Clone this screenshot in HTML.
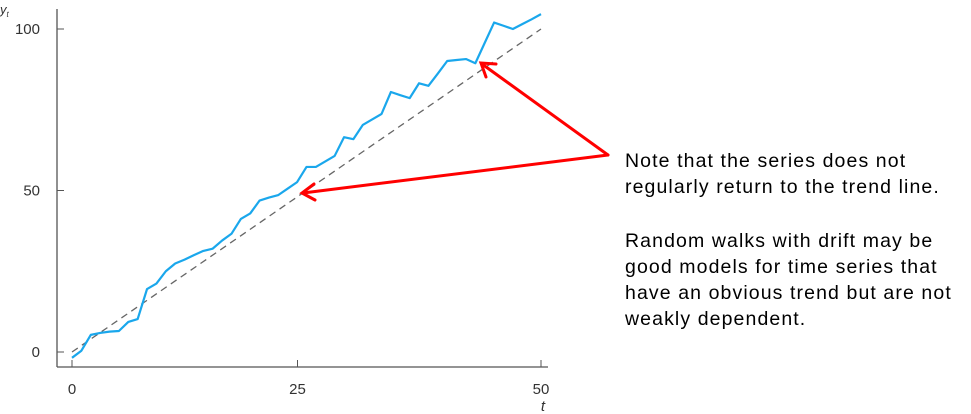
<!DOCTYPE html>
<html><head><meta charset="utf-8"><style>
body{margin:0;background:#fff;width:971px;height:414px;overflow:hidden;font-family:"Liberation Sans",sans-serif}
.note{position:absolute;left:625px;font-size:19.5px;letter-spacing:1.1px;color:#000;line-height:26px;white-space:nowrap}
</style></head><body>
<svg id="chart" width="971" height="414" style="position:absolute;left:0;top:0">
<g id="axes"></g><g id="marks"></g>
<g stroke="#f00" stroke-width="3" fill="none" stroke-linecap="round">
<line x1="608" y1="155" x2="482" y2="64"/>
<polyline points="486,77 481,63 496,64"/>
<line x1="608" y1="155" x2="303" y2="193"/>
<polyline points="314,184 302,193 315,200"/>
</g>
</svg>
<div class="note" style="top:148px">Note that the series does not<br>regularly return to the trend line.</div>
<div class="note" style="top:228px">Random walks with drift may be<br>good models for time series that<br>have an obvious trend but are not<br>weakly dependent.</div>
<script>
const series=[-1.8,0.4,5.3,5.9,6.3,6.5,9.3,10.2,19.5,21.2,25,27.4,28.6,30,31.3,32,34.5,36.6,41.2,42.9,46.9,47.8,48.6,50.6,52.6,57.3,57.3,59,60.7,66.5,65.9,70.3,72,73.7,80.5,79.5,78.6,83.2,82.4,86.2,90.1,90.4,90.7,89.4,95.7,102,101,100,101.5,103,104.6];
const trend=[0,100];
const trendT=[0,50];
const xTicks=[0,25,50];
const yTicks=[0,50,100];
const NS="http://www.w3.org/2000/svg";
const X=t=>72+t*9.38, Y=v=>352-v*3.23;
const XT=t=>X(t)+(t===25?-9:0);
function mk(tag,at,parent){const e=document.createElementNS(NS,tag);for(const k in at)e.setAttribute(k,at[k]);parent.appendChild(e);return e;}
const axes=document.getElementById('axes'), marks=document.getElementById('marks');
let a=mk('line',{x1:57,y1:9,x2:57,y2:367,stroke:'#555','stroke-width':1.3},axes);


a=mk('line',{x1:57,y1:367,x2:548,y2:367,stroke:'#555','stroke-width':1.3},axes);


yTicks.forEach(v=>{mk('line',{x1:57,x2:64,y1:Y(v),y2:Y(v),stroke:'#555'},axes);
const t=mk('text',{x:40,y:Y(v)+5,'text-anchor':'end','font-size':15,fill:'#333','font-family':'Liberation Sans'},axes);t.textContent=v;

});
xTicks.forEach(v=>{mk('line',{x1:XT(v),x2:XT(v),y1:360,y2:367,stroke:'#555'},axes);
const t=mk('text',{x:XT(v),y:394,'text-anchor':'middle','font-size':15,fill:'#333','font-family':'Liberation Sans'},axes);t.textContent=v;

});
let lab=mk('text',{x:0,y:14,'font-size':13,'font-style':'italic',fill:'#333'},axes);lab.innerHTML='y<tspan font-size="8" dy="3">t</tspan>';


lab=mk('text',{x:543,y:411,'font-size':15,'font-style':'italic',fill:'#333','text-anchor':'middle'},axes);lab.textContent='t';


const tl=mk('line',{x1:X(trendT[0]),y1:Y(trend[0]),x2:X(trendT[1]),y2:Y(trend[1]),stroke:'#666','stroke-width':1.3,'stroke-dasharray':'7,5'},marks);


const pl=mk('polyline',{points:series.map((v,i)=>X(i)+','+Y(v)).join(' '),fill:'none',stroke:'#1aa7ec','stroke-width':2.2,'stroke-linejoin':'round'},marks);


</script>
</body></html>
